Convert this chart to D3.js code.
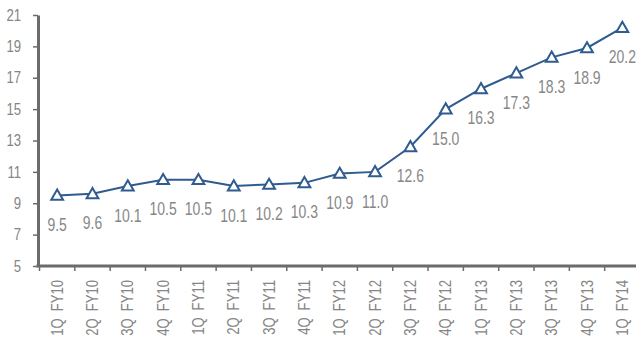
<!DOCTYPE html>
<html><head><meta charset="utf-8">
<script src="https://cdn.jsdelivr.net/npm/d3@7"></script>
<style>
body{margin:0;background:#fff;}
text{font-family:"Liberation Sans","Arial",sans-serif;}
</style></head>
<body><svg id="c" width="636" height="338"></svg>
<script>
const categories = ["1Q FY10","2Q FY10","3Q FY10","4Q FY10","1Q FY11","2Q FY11","3Q FY11","4Q FY11","1Q FY12","2Q FY12","3Q FY12","4Q FY12","1Q FY13","2Q FY13","3Q FY13","4Q FY13","1Q FY14"];
const values = [9.5,9.6,10.1,10.5,10.5,10.1,10.2,10.3,10.9,11.0,12.6,15.0,16.3,17.3,18.3,18.9,20.2];
const yTicks = [5,7,9,11,13,15,17,19,21];

const SX = 0.82; // horizontal condensing to mimic a narrow typeface
const svg = d3.select("#c");
const x = d3.scaleBand().domain(categories).range([39.5, 640]);
const y = d3.scaleLinear().domain([5,21]).range([266,15]);
const axisColor = "#6b6b6b";
const textColor = "#858585";

// y axis
const ya = svg.append("g").attr("transform","translate(38,0)")
  .call(d3.axisLeft(y).tickValues(yTicks).tickSize(5).tickSizeOuter(0).tickPadding(0));
ya.select(".domain").attr("stroke",axisColor).attr("stroke-width",3);
ya.selectAll(".tick line").attr("stroke",axisColor).attr("stroke-width",1.5);
ya.selectAll(".tick text").attr("fill",textColor).style("font-size","16px").attr("font-family",null)
  .attr("x",0).attr("transform",`translate(-17,0) scale(${SX},1)`);

// x axis
const xa = svg.append("g").attr("transform","translate(0,266)")
  .call(d3.axisBottom(x).tickSize(0).tickSizeOuter(0));
xa.select(".domain").attr("stroke",axisColor).attr("stroke-width",3).attr("d","M36.5,0H640");
xa.selectAll(".tick text").attr("fill",textColor).style("font-size","16px").style("word-spacing","4px")
  .attr("font-family",null)
  .attr("text-anchor","end").attr("transform",`rotate(-90) scale(${SX},1)`)
  .attr("x",-14/SX).attr("y",0).attr("dy","0.35em");
// boundary ticks between categories
const bounds = categories.map(c => x(c)).concat([x(categories[categories.length-1]) + x.bandwidth()]);
xa.selectAll(".bt").data(bounds).enter().append("line").attr("class","bt")
  .attr("x1",d=>d).attr("x2",d=>d).attr("y1",0).attr("y2",5)
  .attr("stroke",axisColor).attr("stroke-width",1.5);

const cx = c => x(c) + x.bandwidth()/2;
const lineColor = "#2f5b8f";
svg.append("path").datum(values)
  .attr("fill","none").attr("stroke",lineColor).attr("stroke-width",2)
  .attr("d", d3.line().x((d,i)=>cx(categories[i])).y(d=>y(d)));

const tri = d3.symbol().type(d3.symbolTriangle).size(60);
svg.selectAll(".m").data(values).enter().append("path")
  .attr("transform",(d,i)=>`translate(${cx(categories[i])},${y(d)+1})`)
  .attr("d",tri).attr("fill","#fff").attr("stroke",lineColor).attr("stroke-width",2);

svg.selectAll(".lbl").data(values).enter().append("text")
  .attr("transform",(d,i)=>`translate(${cx(categories[i])},${y(d)+29.5}) scale(0.8,1)`)
  .attr("text-anchor","middle").attr("dy","0.35em")
  .attr("fill","#878787").style("font-size","17.5px")
  .text(d=>d.toFixed(1));
</script></body></html>
